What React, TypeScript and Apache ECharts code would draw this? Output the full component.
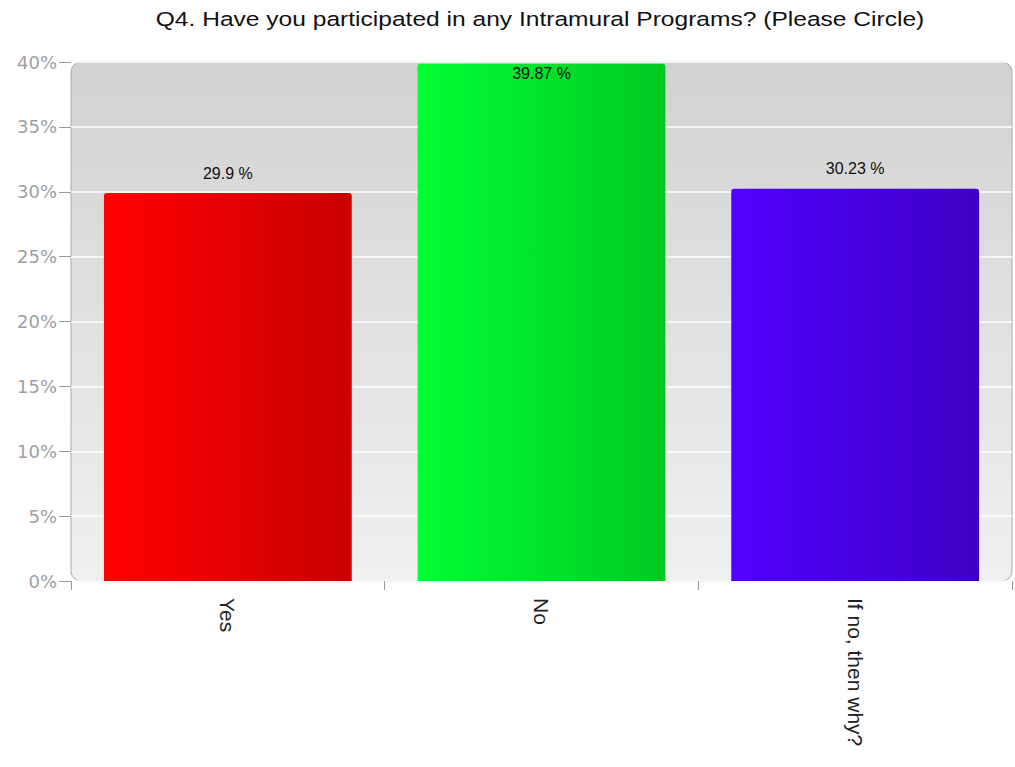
import React, { useEffect, useRef } from "react";
import * as echarts from "echarts";

const categories = ["Yes", "No", "If no, then why?"];
const values = [29.9, 39.87, 30.23];
const yTicks = [0, 5, 10, 15, 20, 25, 30, 35, 40];
const colorStops = [
  ["#ff0000", "#c80000"],
  ["#00ff33", "#00c822"],
  ["#5200ff", "#3f00c4"],
];
const titleText = "Q4. Have you participated in any Intramural Programs? (Please Circle)";

export default function App() {
  const ref = useRef<HTMLDivElement>(null);
  useEffect(() => {
    if (!ref.current) return;
    const chart = echarts.init(ref.current, null, { renderer: "svg" });
    const gridLeft = 71, gridRight = 3, gridTop = 62, gridBottom = 186;
    const W = 1015, H = 767;
    chart.setOption({
      animation: false,
      textStyle: { fontFamily: "Liberation Sans, Arial, sans-serif" },
      graphic: [
        {
          type: "rect",
          z: -10,
          silent: true,
          shape: { x: gridLeft, y: gridTop, width: W - gridLeft - gridRight, height: H - gridTop - gridBottom, r: 10 },
          style: {
            fill: new echarts.graphic.LinearGradient(0, 0, 0, 1, [
              { offset: 0, color: "#d2d2d2" },
              { offset: 1, color: "#f0f0f0" },
            ]),
            stroke: "#aaaaaa",
            lineWidth: 1,
          },
        },
        {
          type: "text",
          x: 540,
          y: 19,
          scaleX: 1.26,
          silent: true,
          style: {
            text: titleText,
            textAlign: "center",
            textVerticalAlign: "middle",
            fill: "#111",
            fontSize: 19.5,
            fontFamily: "Liberation Sans, Arial, sans-serif",
          },
        },
      ],
      grid: { left: gridLeft, right: gridRight, top: gridTop, bottom: gridBottom, containLabel: false },
      xAxis: {
        type: "category",
        data: categories,
        axisLine: { show: false },
        axisTick: { show: true, length: 9, lineStyle: { color: "#999" } },
        axisLabel: { rotate: -90, color: "#222", fontSize: 21, margin: 17 },
      },
      yAxis: {
        type: "value",
        min: 0,
        max: 40,
        interval: 5,
        axisLine: { show: false },
        axisTick: { show: true, length: 12, lineStyle: { color: "#999" } },
        axisLabel: {
          color: "#a0a0a0",
          fontSize: 18,
          fontFamily: "DejaVu Sans, sans-serif",
          margin: 14,
          formatter: (v: number) => (yTicks.includes(v) ? v + "%" : ""),
        },
        splitLine: { show: true, lineStyle: { color: "#ffffff", width: 1.5 } },
      },
      series: [
        {
          type: "bar",
          barWidth: "79%",
          data: values.map((v, i) => ({
            value: v,
            itemStyle: {
              color: new echarts.graphic.LinearGradient(0, 0, 1, 0, [
                { offset: 0, color: colorStops[i][0] },
                { offset: 1, color: colorStops[i][1] },
              ]),
              borderRadius: [3, 3, 0, 0],
            },
            label: v > 38 ? { position: "insideTop", distance: 2 } : { position: "top", distance: 12 },
          })),
          label: {
            show: true,
            color: "#111",
            fontSize: 16,
            formatter: (p: any) => p.value + " %",
          },
        },
      ],
    });
    return () => chart.dispose();
  }, []);
  return <div ref={ref} style={{ position: "absolute", left: 0, top: 0, width: 1015, height: 767 }} />;
}
